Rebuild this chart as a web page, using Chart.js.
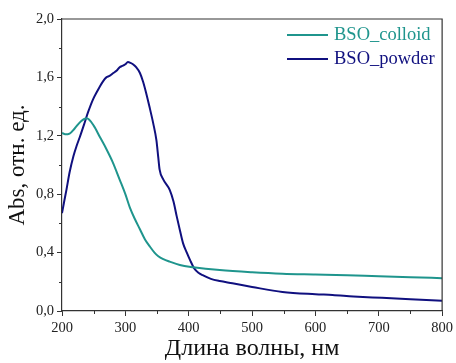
<!DOCTYPE html>
<html>
<head>
<meta charset="utf-8">
<script src="https://cdn.jsdelivr.net/npm/chart.js@4/dist/chart.umd.min.js"></script>
<style>
  html, body { margin: 0; padding: 0; background: #fff; }
  canvas { display: block; }
</style>
</head>
<body>
<canvas id="chart" width="456" height="363"></canvas>
<script>
const seriesNames = ['BSO_colloid', 'BSO_powder'];

// wavelength (nm) / absorbance
const colloidWl = [200, 205, 212, 220, 230, 239, 250, 260, 270, 280, 291, 300, 307, 315, 323, 331, 339, 346, 352, 360, 370, 386, 407, 449, 500, 548, 600, 650, 700, 750, 800];
const colloidAbs = [1.22, 1.21, 1.215, 1.25, 1.30, 1.32, 1.27, 1.19, 1.11, 1.02, 0.90, 0.80, 0.71, 0.63, 0.56, 0.49, 0.44, 0.40, 0.375, 0.355, 0.338, 0.315, 0.30, 0.28, 0.265, 0.255, 0.25, 0.245, 0.238, 0.232, 0.225];

const powderWl = [200, 203, 207, 212, 218, 223, 228, 235, 241, 249, 255, 260, 265, 270, 275, 281, 286, 291, 296, 300, 304, 308, 312, 317, 323, 328, 333, 338, 344, 349, 352, 354, 360, 370, 376, 381, 386, 391, 397, 402, 409, 416, 422, 435, 449, 469, 500, 548, 600, 627, 660, 705, 750, 800];
const powderAbs = [0.67, 0.74, 0.83, 0.95, 1.06, 1.13, 1.19, 1.28, 1.36, 1.45, 1.50, 1.54, 1.575, 1.60, 1.61, 1.63, 1.645, 1.67, 1.68, 1.69, 1.705, 1.70, 1.69, 1.67, 1.63, 1.57, 1.49, 1.40, 1.285, 1.17, 1.05, 0.97, 0.90, 0.83, 0.75, 0.65, 0.555, 0.465, 0.40, 0.35, 0.29, 0.26, 0.245, 0.22, 0.205, 0.19, 0.165, 0.13, 0.115, 0.11, 0.10, 0.09, 0.08, 0.07];

const xTicks = [200, 300, 400, 500, 600, 700, 800];
const yTicks = [0, 0.4, 0.8, 1.2, 1.6, 2.0];

const colors = ['#1f958d', '#10107f'];
const serif = 'Liberation Serif, Times New Roman, serif';

const toPoints = (xs, ys) => xs.map((x, i) => ({ x, y: ys[i] }));

// short minor ticks half way between the labelled ones, plus the top/right frame
const framePlugin = {
  id: 'frame',
  afterDraw(chart) {
    const { ctx, chartArea: a, scales } = chart;
    ctx.save();
    ctx.strokeStyle = '#333';
    ctx.lineWidth = 1.2;
    ctx.beginPath();
    ctx.moveTo(a.left, a.top);
    ctx.lineTo(a.right, a.top);
    ctx.lineTo(a.right, a.bottom);
    ctx.stroke();

    ctx.lineWidth = 1;
    ctx.beginPath();
    for (let i = 0; i < xTicks.length - 1; i++) {
      const px = Math.round(scales.x.getPixelForValue((xTicks[i] + xTicks[i + 1]) / 2)) + 0.5;
      ctx.moveTo(px, a.bottom);
      ctx.lineTo(px, a.bottom + 3);
    }
    for (let i = 0; i < yTicks.length - 1; i++) {
      const py = Math.round(scales.y.getPixelForValue((yTicks[i] + yTicks[i + 1]) / 2)) + 0.5;
      ctx.moveTo(a.left, py);
      ctx.lineTo(a.left - 3, py);
    }
    ctx.stroke();

    // legend, top right inside the plot
    ctx.font = '18.5px ' + serif;
    ctx.textBaseline = 'middle';
    chart.data.datasets.forEach((ds, i) => {
      const y = 35 + i * 24;
      ctx.strokeStyle = ds.borderColor;
      ctx.lineWidth = 2;
      ctx.beginPath();
      ctx.moveTo(287, y);
      ctx.lineTo(328, y);
      ctx.stroke();
      ctx.fillStyle = ds.borderColor;
      ctx.fillText(ds.label, 334, y);
    });
    ctx.restore();
  }
};

new Chart(document.getElementById('chart'), {
  type: 'line',
  data: {
    datasets: [
      { label: seriesNames[0], data: toPoints(colloidWl, colloidAbs), borderColor: colors[0], borderWidth: 2, pointRadius: 0, cubicInterpolationMode: 'monotone' },
      { label: seriesNames[1], data: toPoints(powderWl, powderAbs), borderColor: colors[1], borderWidth: 2, pointRadius: 0, cubicInterpolationMode: 'monotone' },
    ],
  },
  options: {
    responsive: false,
    devicePixelRatio: 1,
    animation: false,
    layout: { padding: { top: 19, right: 13, left: 0, bottom: 0 } },
    plugins: { legend: { display: false }, tooltip: { enabled: false } },
    scales: {
      x: {
        type: 'linear',
        min: 200,
        max: 800,
        afterBuildTicks: s => { s.ticks = xTicks.map(v => ({ value: v })); },
        afterFit: s => { s.height = 52; },
        ticks: { color: '#222', font: { family: serif, size: 14.5 }, padding: 3, maxRotation: 0 },
        grid: { drawOnChartArea: false, tickLength: 5, color: '#333' },
        border: { color: '#333', width: 1.2 },
        title: { display: true, text: 'Длина волны, нм', color: '#111', font: { family: serif, size: 24 }, padding: { top: 4, bottom: 0 } },
      },
      y: {
        min: 0,
        max: 2,
        afterBuildTicks: s => { s.ticks = yTicks.map(v => ({ value: v })); },
        afterFit: s => { s.width = 62; },
        ticks: { color: '#222', font: { family: serif, size: 14.5 }, padding: 3, callback: v => v.toFixed(1).replace('.', ',') },
        grid: { drawOnChartArea: false, tickLength: 5, color: '#333' },
        border: { color: '#333', width: 1.2 },
        title: { display: true, text: 'Abs, отн. ед.', color: '#111', font: { family: serif, size: 23 }, padding: { top: 4, bottom: 0 } },
      },
    },
  },
  plugins: [framePlugin],
});
</script>
</body>
</html>
